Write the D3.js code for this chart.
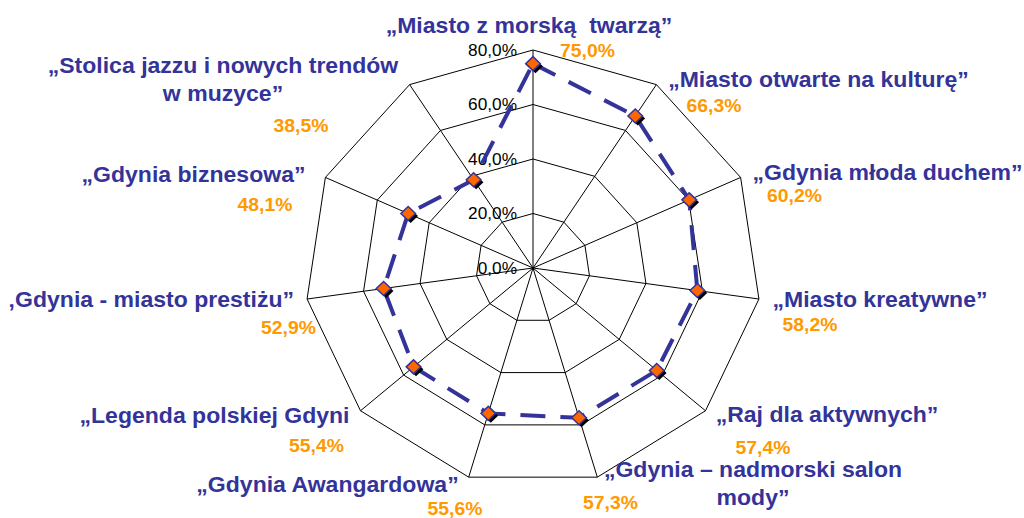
<!DOCTYPE html>
<html>
<head>
<meta charset="utf-8">
<script src="https://cdn.jsdelivr.net/npm/d3@7"></script>
<style>
  html, body { margin: 0; padding: 0; background: #fff; }
  svg { display: block; }
  text { font-family: Arial, "Liberation Sans", sans-serif; white-space: pre; }
</style>
</head>
<body>
<svg id="chart" width="1024" height="518"></svg>
<script>
// Category names (clockwise from the top), one entry per line of text
const categories = [
  ["„Miasto z morską  twarzą”"],
  ["„Miasto otwarte na kulturę”"],
  ["„Gdynia młoda duchem”"],
  ["„Miasto kreatywne”"],
  ["„Raj dla aktywnych”"],
  ["„Gdynia – nadmorski salon", "mody”"],
  ["„Gdynia Awangardowa”"],
  ["„Legenda polskiej Gdyni"],
  ["„Gdynia - miasto prestiżu”"],
  ["„Gdynia biznesowa”"],
  ["„Stolica jazzu i nowych trendów", "w muzyce”"]
];
const values = [75.0, 66.3, 60.2, 58.2, 57.4, 57.3, 55.6, 55.4, 52.9, 48.1, 38.5];
const ticks = [0, 20, 40, 60, 80];

const fmt = v => d3.format(".1f")(v).replace(".", ",") + "%";

const svg = d3.select("#chart");
const W = 1024, H = 518;
svg.append("rect").attr("width", W).attr("height", H).attr("fill", "#fff");

const cx = 533, cy = 268;
const sx = 1.047;                 // horizontal stretch of the plot
const navy = "#333399", orange = "#FF9900";

const r = d3.scaleLinear().domain([0, 80]).range([0, 218]);
const n = categories.length;
const angle = d3.scaleLinear().domain([0, n]).range([0, 2 * Math.PI]);

const pt = (i, v) => {
  const a = angle(i);
  return [cx + r(v) * Math.sin(a) * sx, cy - r(v) * Math.cos(a)];
};

// grid rings
const grid = svg.append("g").attr("stroke", "#000").attr("stroke-width", 1).attr("fill", "none");
ticks.filter(t => t > 0).forEach(t => {
  grid.append("path")
    .attr("d", d3.line()(d3.range(n).map(i => pt(i, t))) + "Z");
});
// spokes
d3.range(n).forEach(i => {
  const [x, y] = pt(i, ticks[ticks.length - 1]);
  grid.append("line").attr("x1", cx).attr("y1", cy).attr("x2", x).attr("y2", y);
});

// tick labels along the top spoke
svg.append("g").selectAll("text").data(ticks).join("text")
  .attr("transform", t => `translate(517,${cy - r(t)}) scale(${sx},1)`)
  .attr("text-anchor", "end")
  .attr("dy", "0.36em")
  .attr("font-size", 16.5)
  .attr("fill", "#000")
  .text(t => fmt(t));

// data line
const pts = values.map((v, i) => pt(i, v));
svg.append("path")
  .attr("d", d3.line()(pts) + "Z")
  .attr("fill", "none")
  .attr("stroke", navy)
  .attr("stroke-width", 4)
  .attr("stroke-dasharray", "25,15");

// markers with drop shadow
const diamond = (x, y, s) => `M${x},${y - s}L${x + s * sx},${y}L${x},${y + s}L${x - s * sx},${y}Z`;
svg.append("g").selectAll("path").data(pts).join("path")
  .attr("d", d => diamond(d[0] + 2.5, d[1] + 2.5, 7))
  .attr("fill", "#000");
svg.append("g").selectAll("path").data(pts).join("path")
  .attr("d", d => diamond(d[0], d[1], 7))
  .attr("fill", "#FF6600")
  .attr("stroke", navy)
  .attr("stroke-width", 1.5);

// label placement: [name x, name baseline, anchor, value x, value baseline]
const layout = [
  [529, 33, "middle", 587.5, 57],
  [818.5, 87, "middle", 714, 112],
  [887.5, 180, "middle", 794.5, 202],
  [880, 307, "middle", 810, 331],
  [827, 422, "middle", 763, 454],
  [753, 477, "middle", 610.5, 509],
  [327.5, 492, "middle", 455, 515],
  [214.5, 423, "middle", 316.5, 452],
  [294, 307, "end", 288.5, 334],
  [193.5, 182, "middle", 265, 211],
  [223, 73, "middle", 301, 132]
];

const defs = svg.append("defs");
defs.append("clipPath").attr("id", "plotArea")
  .append("rect").attr("x", 9).attr("y", 0).attr("width", W - 9).attr("height", H);

const labels = svg.append("g").attr("clip-path", "url(#plotArea)");
categories.forEach((lines, i) => {
  const [nx, ny, anchor, vx, vy] = layout[i];
  lines.forEach((line, k) => {
    labels.append("text")
      .attr("transform", `translate(${nx},${ny + k * 28}) scale(${sx},1)`)
      .attr("text-anchor", anchor)
      .attr("font-size", 22)
      .attr("font-weight", "bold")
      .attr("fill", navy)
      .text(line);
  });
  labels.append("text")
    .attr("transform", `translate(${vx},${vy}) scale(${sx},1)`)
    .attr("text-anchor", "middle")
    .attr("font-size", 18.5)
    .attr("font-weight", "bold")
    .attr("fill", orange)
    .text(fmt(values[i]));
});
</script>
</body>
</html>
